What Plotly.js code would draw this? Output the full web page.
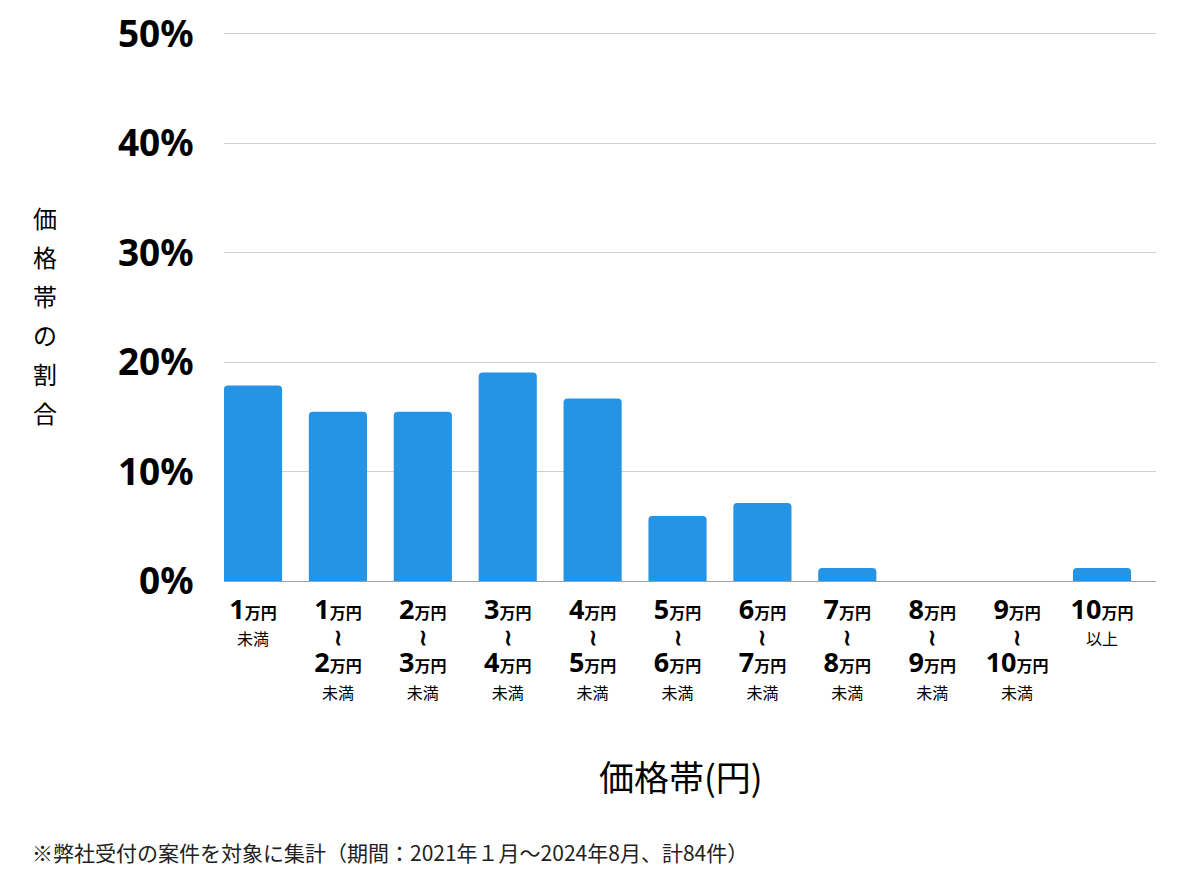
<!DOCTYPE html>
<html>
<head>
<meta charset="utf-8">
<script src="https://cdn.plot.ly/plotly-3.0.1.min.js"></script>
<style>html,body{margin:0;padding:0;background:#fff;}#chart{width:1200px;height:874px;}</style>
</head>
<body>
<div id="chart"></div>
<script>
// Data
const categories = ['1万円未満','1万円〜2万円未満','2万円〜3万円未満','3万円〜4万円未満','4万円〜5万円未満','5万円〜6万円未満','6万円〜7万円未満','7万円〜8万円未満','8万円〜9万円未満','9万円〜10万円未満','10万円以上'];
const shares = [17.86, 15.48, 15.48, 19.05, 16.67, 5.95, 7.14, 1.19, 0, 0, 1.19];
const lowerMan = [null, 1, 2, 3, 4, 5, 6, 7, 8, 9, 10];
const upperMan = [1, 2, 3, 4, 5, 6, 7, 8, 9, 10, null];
const yTickVals = [0, 10, 20, 30, 40, 50];
const yTickText = ['0%', '10%', '20%', '30%', '40%', '50%'];
const yTitleChars = ['価','格','帯','の','割','合'];
const xTitle = '価格帯(円)';
const footnote = '※弊社受付の案件を対象に集計（期間：2021年１月〜2024年8月、計84件）';

const num = n => '<span style="font-size:27px">' + n + '</span><span style="font-size:16px">万円</span>';
const small = t => '<span style="font-size:16px;font-weight:normal">' + t + '</span>';
const wave = '<span style="font-size:22px">≀</span>';
const ticktext = categories.map((c, i) => {
  if (lowerMan[i] === null) return num(upperMan[i]) + '<br>' + small('未満');
  if (upperMan[i] === null) return num(lowerMan[i]) + '<br>' + small('以上');
  return num(lowerMan[i]) + '<br>' + wave + '<br>' + num(upperMan[i]) + '<br>' + small('未満');
});
const idx = categories.map((c, i) => i);

const trace = {
  type: 'bar',
  x: idx,
  y: shares,
  marker: {color: '#2694E5', cornerradius: 4},
  width: 0.685,
  hoverinfo: 'skip'
};

const layout = {
  width: 1200, height: 874,
  paper_bgcolor: '#fff', plot_bgcolor: '#fff',
  margin: {l: 224, r: 44, t: 31, b: 293},
  showlegend: false,
  font: {family: '"Noto Sans", "Noto Sans CJK JP", sans-serif', color: '#000'},
  xaxis: {
    tickmode: 'array', tickvals: idx, ticktext: ticktext,
    range: [-0.342, 10.636],
    tickfont: {size: 20.5, weight: 'bold', color: '#000', family: '"Noto Sans", "Noto Sans CJK JP", sans-serif'},
    ticks: 'outside', ticklen: 12, tickcolor: 'rgba(0,0,0,0)',
    showgrid: false, zeroline: false, showline: false, fixedrange: true
  },
  yaxis: {
    range: [0, 50.27], tickmode: 'array', tickvals: yTickVals, ticktext: yTickText,
    tickfont: {size: 37, weight: 'bold', color: '#000', family: '"Noto Sans", "Noto Sans CJK JP", sans-serif'},
    ticks: 'outside', ticklen: 22, tickcolor: 'rgba(0,0,0,0)',
    showgrid: true, gridcolor: '#cfcfcf', gridwidth: 1,
    zeroline: true, zerolinecolor: '#a0a0a0', zerolinewidth: 1,
    showline: false, fixedrange: true
  },
  annotations: [
    {
      xref: 'paper', yref: 'paper', x: (45 - 224) / 932, y: 1 - (315 - 31) / 550,
      xanchor: 'center', yanchor: 'middle', showarrow: false,
      text: yTitleChars.map(c => '<span style="font-size:24px">' + c + '</span>').join('<br>'),
      font: {size: 30, color: '#000', family: '"Noto Sans CJK JP", sans-serif'}
    },
    {
      xref: 'paper', yref: 'paper', x: (681 - 224) / 932, y: 1 - (775 - 31) / 550,
      xanchor: 'center', yanchor: 'middle', showarrow: false,
      text: xTitle,
      font: {size: 35, color: '#000', family: '"Noto Sans CJK JP", sans-serif'}
    },
    {
      xref: 'paper', yref: 'paper', x: (30 - 224) / 932, y: 1 - (852 - 31) / 550,
      xanchor: 'left', yanchor: 'middle', showarrow: false,
      text: footnote,
      font: {size: 21, color: '#222', family: '"Noto Sans CJK JP", sans-serif'}
    }
  ]
};

Plotly.newPlot('chart', [trace], layout, {displayModeBar: false, staticPlot: true});
</script>
</body>
</html>
